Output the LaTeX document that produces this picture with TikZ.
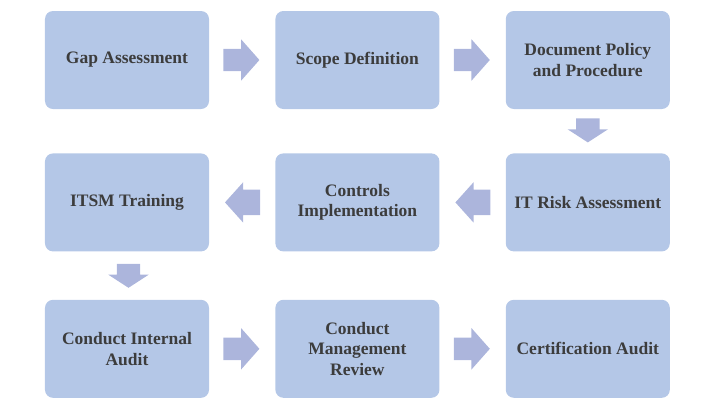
\documentclass[tikz,border=0pt]{standalone}
\usepackage{fontspec}
\setmainfont{Liberation Serif}
\usetikzlibrary{positioning,shapes.arrows,calc}
\definecolor{boxblue}{RGB}{180,199,231}
\definecolor{arrowblue}{RGB}{172,181,220}
\definecolor{labelgray}{RGB}{60,60,60}

\begin{document}
\begin{tikzpicture}[
  x=1bp, y=1bp,
  node distance=44bp and 66bp,
  box/.style={rounded corners=8bp, fill=boxblue, minimum width=164bp, minimum height=98bp, align=center, text=labelgray, inner sep=2bp, font=\bfseries\fontsize{17.5bp}{20.5bp}\selectfont},
  rightarrow/.style={single arrow, fill=arrowblue, anchor=tail, inner xsep=0pt, inner ysep=11bp, minimum height=36bp, single arrow head extend=9.5bp, single arrow tip angle=97},
  leftarrow/.style={rightarrow, shape border rotate=180, inner ysep=12.5bp, minimum height=35bp, single arrow head extend=7.5bp, single arrow tip angle=96},
  downarrow/.style={rightarrow, shape border rotate=270, inner xsep=11.5bp, inner ysep=0pt, minimum height=24bp, single arrow head extend=8.5bp, single arrow tip angle=114}
]
  \useasboundingbox (0,0) rectangle (724,-406);
  % first row, left to right
  \node[box] (gap) at (127,-60) {Gap Assessment};
  \node[box, right=of gap] (scope) {Scope Definition};
  \node[box, right=of scope] (policy) {Document Policy\\and Procedure};
  % second row, right to left
  \node[box, below=of policy] (risk) {IT Risk Assessment};
  \node[box, left=of risk] (controls) {Controls\\Implementation};
  \node[box, left=of controls] (training) {ITSM Training};
  % third row, left to right
  \node[box, below=48bp of training] (audit) {Conduct Internal\\Audit};
  \node[box, right=of audit] (review) {Conduct\\Management\\Review};
  \node[box, right=of review] (cert) {Certification Audit};
  % block arrows between the steps
  \node[rightarrow] (a1) at ($(gap.east)+(14bp,0)$) {};
  \node[rightarrow] (a2) at ($(scope.east)+(14bp,0)$) {};
  \node[downarrow] (a3) at ($(policy.south)+(0,-9bp)$) {};
  \node[leftarrow] (a4) at ($(risk.west)+(-15bp,0)$) {};
  \node[leftarrow] (a5) at ($(controls.west)+(-15bp,0)$) {};
  \node[downarrow] (a6) at ($(training.south)+(1.5bp,-12bp)$) {};
  \node[rightarrow] (a7) at ($(audit.east)+(14bp,0)$) {};
  \node[rightarrow] (a8) at ($(review.east)+(14bp,0)$) {};
\end{tikzpicture}
\end{document}
